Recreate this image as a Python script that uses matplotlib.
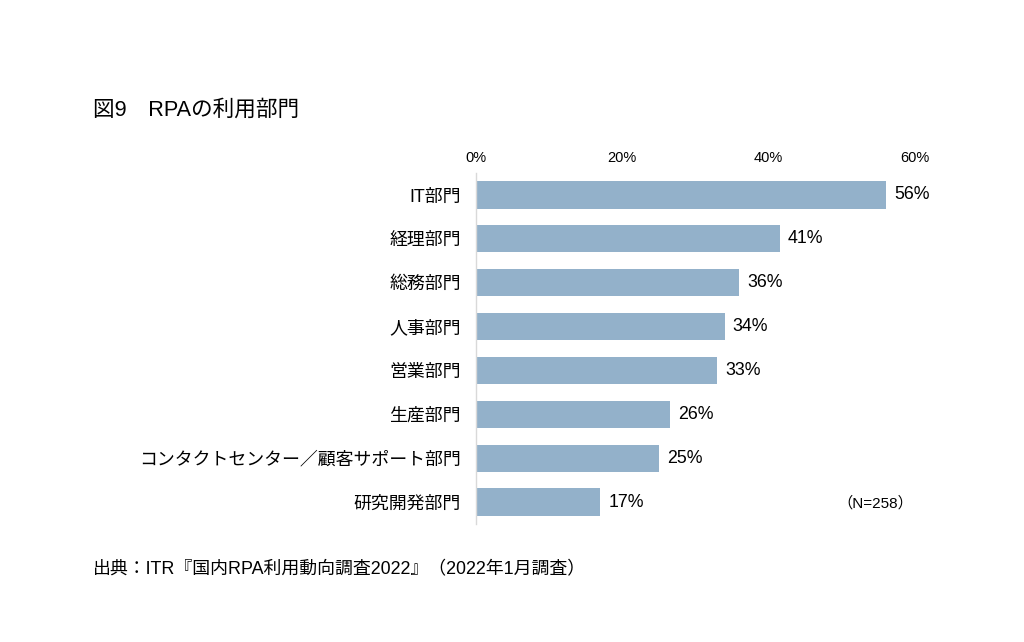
import matplotlib.pyplot as plt

plt.rcParams['font.family'] = ['Liberation Sans', 'Noto Sans CJK JP']

# データ
departments = ["IT部門", "経理部門", "総務部門", "人事部門", "営業部門", "生産部門",
               "コンタクトセンター／顧客サポート部門", "研究開発部門"]
values = [56, 41.5, 36, 34, 33, 26.5, 25, 17]
value_labels = ["56%", "41%", "36%", "34%", "33%", "26%", "25%", "17%"]
ticks = [0, 20, 40, 60]
tick_labels = ["0%", "20%", "40%", "60%"]

fig = plt.figure(figsize=(10.24, 6.42), dpi=100)
ax = fig.add_axes([0.4648, 0.1838, 0.4288, 0.5467])

y = list(range(len(departments)))
ax.barh(y, values, height=0.62, color="#93b1ca")
ax.set_ylim(len(departments) - 0.5, -0.5)
ax.set_xlim(0, 60)

ax.xaxis.tick_top()
ax.set_xticks(ticks)
ax.set_xticklabels(tick_labels, fontsize=10.5)
ax.set_yticks(y)
ax.set_yticklabels(departments, fontsize=12.9)
ax.tick_params(axis="y", length=0, pad=11)
ax.tick_params(axis="x", length=0, pad=6)

for s in ["top", "right", "bottom"]:
    ax.spines[s].set_visible(False)
ax.spines["left"].set_color("#d9d9d9")
ax.spines["left"].set_linewidth(1)

for yi, v, lab in zip(y, values, value_labels):
    ax.text(v + 1.1, yi, lab, va="center", ha="left", fontsize=12.8)

fig.text(0.0908, 0.828, "図9　RPAの利用部門", fontsize=15.6, va="center")
fig.text(0.818, 0.216, "（N=258）", fontsize=11, va="center")
fig.text(0.0908, 0.112, "出典：ITR『国内RPA利用動向調査2022』（2022年1月調査）",
         fontsize=12.9, va="center")

fig.savefig("out.png", dpi=100)
